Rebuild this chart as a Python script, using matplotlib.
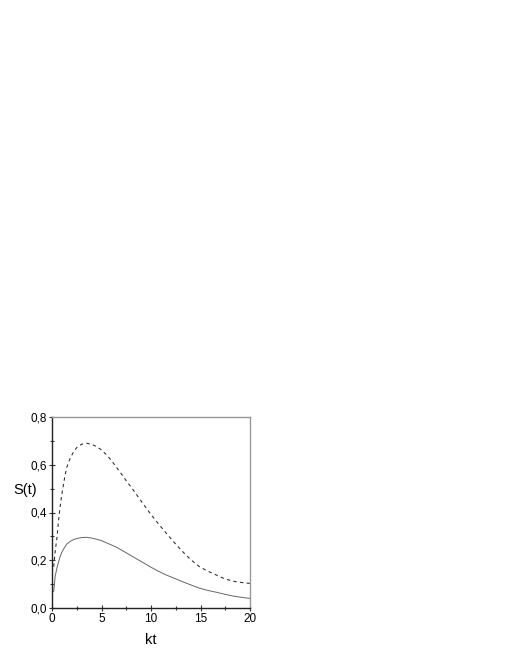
import matplotlib
matplotlib.use("Agg")
import matplotlib.pyplot as plt
from matplotlib.ticker import MultipleLocator, FuncFormatter

# values
kt = [0.17, 0.33, 0.5, 0.67, 0.84, 1.0, 1.17, 1.34, 1.5, 1.84, 2.2, 2.5, 3.0,
      3.5, 4.0, 4.5, 5.0, 5.5, 6.0, 6.5, 7.0, 7.5, 8.2, 9.0, 9.9, 10.7,
      11.55, 12.4, 13.2, 14.0, 14.9, 15.7, 16.6, 17.4, 18.3, 19.1, 20.0]
s_dashed = [0.173, 0.24, 0.295, 0.37, 0.43, 0.478, 0.52, 0.56, 0.59, 0.628,
            0.655, 0.672, 0.686, 0.690, 0.686, 0.676, 0.662, 0.642, 0.618,
            0.590, 0.562, 0.533, 0.495, 0.448, 0.397, 0.355, 0.313, 0.272,
            0.236, 0.203, 0.173, 0.155, 0.138, 0.123, 0.112, 0.107, 0.103]
s_solid = [0.069, 0.135, 0.168, 0.194, 0.218, 0.234, 0.247, 0.258, 0.268, 0.279,
           0.287, 0.291, 0.295, 0.296, 0.293, 0.288, 0.282, 0.273, 0.264,
           0.255, 0.243, 0.231, 0.214, 0.195, 0.173, 0.155, 0.138, 0.124,
           0.110, 0.097, 0.083, 0.074, 0.066, 0.058, 0.050, 0.045, 0.040]

plt.rcParams['font.family'] = ['Liberation Sans', 'DejaVu Sans']

fig = plt.figure(figsize=(5.1, 6.6), dpi=100)
ax = fig.add_axes([52 / 510, 1 - 608 / 660, 198 / 510, 191 / 660])

ax.plot(kt, s_solid, color="#666666", lw=0.7)
ax.plot(kt, s_dashed, color="#333333", lw=0.8, dashes=(3, 3))

ax.set_xlim(0, 20)
ax.set_ylim(0, 0.8)
ax.xaxis.set_major_locator(MultipleLocator(5))
ax.xaxis.set_minor_locator(MultipleLocator(2.5))
ax.yaxis.set_major_locator(MultipleLocator(0.2))
ax.yaxis.set_minor_locator(MultipleLocator(0.1))
ax.yaxis.set_major_formatter(FuncFormatter(lambda v, p: f"{v:.1f}".replace(".", ",")))

ax.tick_params(which="both", direction="inout", top=False, right=False,
               labelsize=8.5, color="#333333", width=0.8)
ax.tick_params(which="major", length=5, pad=1)
ax.tick_params(which="minor", length=3)

for side in ["top", "right"]:
    ax.spines[side].set_color("#999999")
    ax.spines[side].set_linewidth(1.0)
for side in ["left", "bottom"]:
    ax.spines[side].set_color("#222222")
    ax.spines[side].set_linewidth(1.0)

ax.set_xlabel("kt", fontsize=10.5, labelpad=6)
ax.set_ylabel("S(t)", fontsize=10.5, rotation=0, va="center", ha="center")
ax.yaxis.set_label_coords(-0.135, 0.618)

plt.savefig("out.png", dpi=100)
